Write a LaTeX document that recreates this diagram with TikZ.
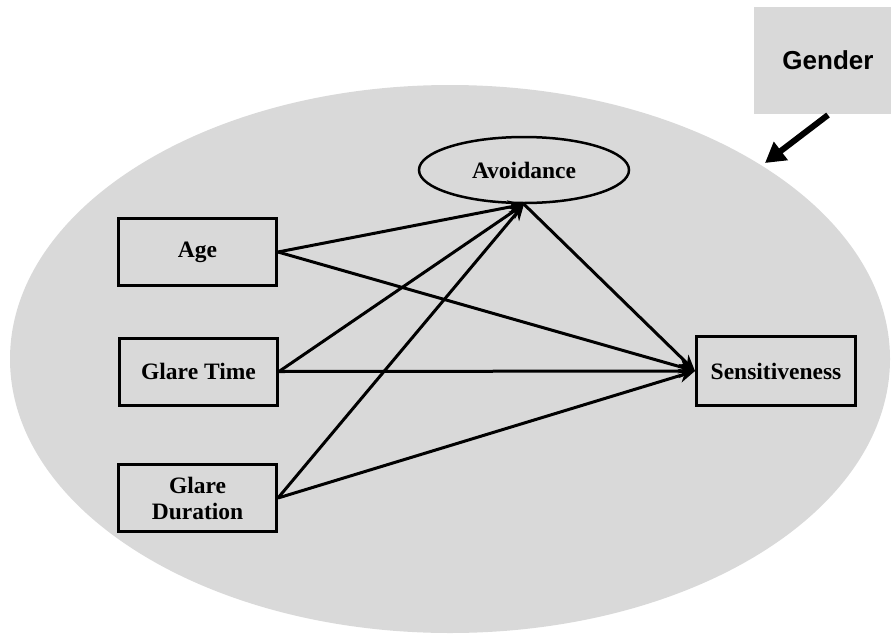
\documentclass[tikz,border=0pt]{standalone}
\usepackage{fontspec}
\setmainfont{Liberation Serif}
\newfontfamily\gendfont{Liberation Sans}
\usetikzlibrary{arrows.meta,shapes.geometric}
\definecolor{bgray}{HTML}{D9D9D9}
\tikzset{
  varbox/.style={draw=black, line width=3pt, fill=bgray, rectangle,
    minimum width=158pt, minimum height=67pt, inner sep=0pt, align=center,
    font=\fontsize{23.5}{26}\selectfont\bfseries},
  latent/.style={draw=black, line width=2.5pt, fill=bgray, ellipse,
    minimum width=210pt, minimum height=66pt, inner sep=0pt,
    font=\fontsize{23.5}{26}\selectfont\bfseries},
  path/.style={draw=black, line width=3pt,
    -{Stealth[length=16pt,width=14pt,inset=5pt]}},
}
\begin{document}
\begin{tikzpicture}[x=1pt,y=-1pt]
\useasboundingbox (0,0) rectangle (891,635);
\fill[bgray] (450,359) ellipse [x radius=440, y radius=274];

\node[fill=bgray, minimum width=148pt, minimum height=107pt, inner sep=0pt,
  font=\gendfont\fontsize{26}{28}\selectfont\bfseries] (gender) at (828,60.5) {Gender};
\coordinate (gtip) at (765,163);
\draw[line width=6pt, -{Triangle[length=20pt,width=22pt]}] (828,115) -- (gtip);

\node[varbox] (age) at (197.5,252) {Age};
\node[varbox] (time) at (198.5,371.5) {Glare Time};
\node[varbox] (dur) at (197.5,498) {Glare\\Duration};
\node[varbox, minimum width=159pt, minimum height=69pt] (sens) at (776,371) {Sensitiveness};
\node[latent] (avoid) at (524,170) {Avoidance};

\draw[path] (age.east) -- (avoid.south);
\draw[path] (time.east) -- (avoid.south);
\draw[path] (dur.east) -- (avoid.south);
\draw[path] (age.east) -- (sens.west);
\draw[path] (time.east) -- (sens.west);
\draw[path] (dur.east) -- (sens.west);
\draw[path] (avoid.south) -- (sens.west);
\end{tikzpicture}
\end{document}
